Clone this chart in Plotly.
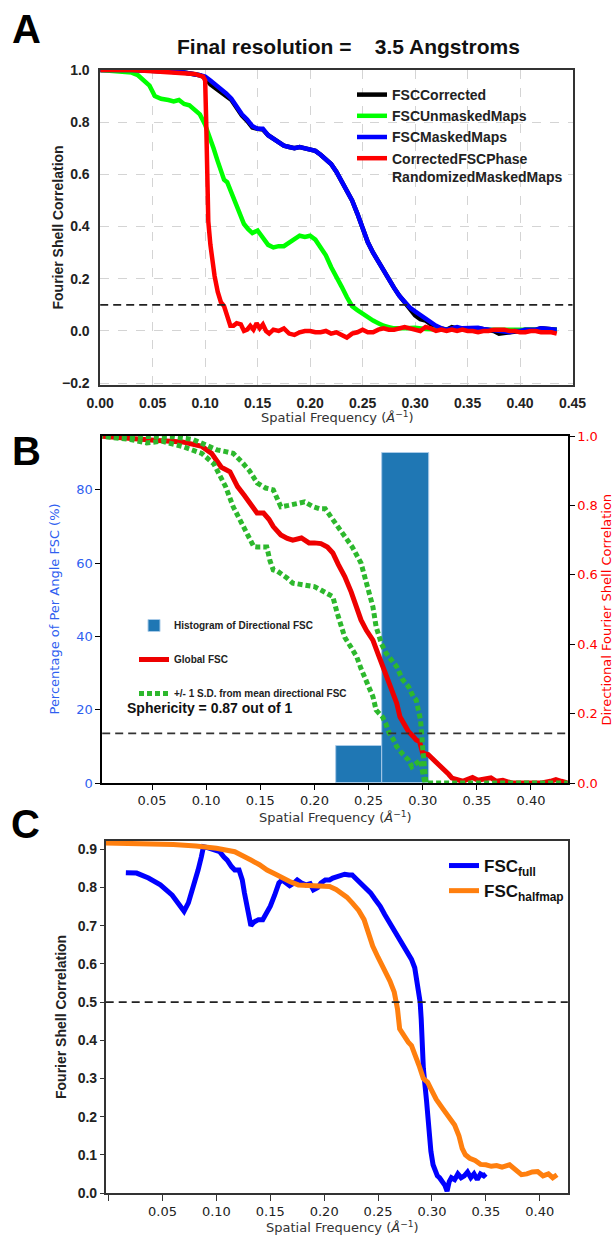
import plotly.graph_objects as go

# ---------------- Panel A data ----------------
a_corr_x = [0, 0.03, 0.06, 0.08, 0.095, 0.10, 0.105, 0.11, 0.115, 0.12, 0.125, 0.13, 0.135, 0.14, 0.145, 0.15,
            0.155, 0.16, 0.165, 0.17, 0.175, 0.18, 0.185, 0.19, 0.195, 0.20, 0.205, 0.21, 0.215, 0.22, 0.225,
            0.23, 0.235, 0.24, 0.245, 0.25, 0.255, 0.26, 0.265, 0.27, 0.275, 0.28, 0.285, 0.29, 0.295, 0.30,
            0.305, 0.31, 0.315, 0.32, 0.325, 0.33, 0.335, 0.34, 0.345, 0.35, 0.355, 0.36, 0.365, 0.37, 0.375,
            0.38, 0.385, 0.39, 0.395, 0.40, 0.405, 0.41, 0.415, 0.42, 0.425, 0.43, 0.435]
a_corr_y = [1.0, 1.0, 0.995, 0.99, 0.98, 0.97, 0.945, 0.93, 0.92, 0.905, 0.885, 0.855, 0.825, 0.805, 0.78, 0.775,
            0.772, 0.75, 0.735, 0.72, 0.71, 0.705, 0.70, 0.705, 0.70, 0.695, 0.69, 0.675, 0.66, 0.64, 0.61,
            0.575, 0.54, 0.50, 0.45, 0.39, 0.34, 0.30, 0.265, 0.235, 0.20, 0.165, 0.135, 0.11, 0.085, 0.06,
            0.045, 0.04, 0.025, 0.015, 0.01, 0.005, 0.015, 0.01, 0.01, 0.012, 0.01, 0.01, 0.008, 0.005, 0.0,
            -0.01, -0.008, -0.005, 0.0, 0.0, 0.005, 0.005, 0.005, 0.01, 0.008, 0.01, 0.005]

a_mask_x = a_corr_x
a_mask_y = [1.0, 1.0, 0.995, 0.99, 0.98, 0.975, 0.96, 0.945, 0.93, 0.91, 0.89, 0.86, 0.83, 0.81, 0.785, 0.775,
            0.775, 0.75, 0.735, 0.72, 0.71, 0.705, 0.70, 0.705, 0.70, 0.695, 0.69, 0.675, 0.66, 0.64, 0.61,
            0.575, 0.54, 0.50, 0.45, 0.39, 0.34, 0.30, 0.265, 0.235, 0.20, 0.165, 0.135, 0.11, 0.09, 0.075,
            0.06, 0.045, 0.03, 0.02, 0.01, 0.005, 0.01, 0.015, 0.01, 0.012, 0.01, 0.012, 0.008, 0.005, 0.005,
            0.0, -0.005, -0.005, 0.0, 0.0, 0.005, 0.005, 0.005, 0.01, 0.008, 0.01, 0.005]

a_unmask_x = [0, 0.02, 0.03, 0.036, 0.042, 0.047, 0.052, 0.058, 0.065, 0.07, 0.075, 0.08, 0.085, 0.09, 0.095,
              0.10, 0.104, 0.108, 0.112, 0.115, 0.118, 0.121, 0.124, 0.127, 0.13, 0.133, 0.137, 0.141, 0.145,
              0.15, 0.155, 0.16, 0.165, 0.17, 0.175, 0.18, 0.185, 0.19, 0.195, 0.20, 0.205, 0.21, 0.215, 0.22,
              0.225, 0.23, 0.235, 0.24, 0.245, 0.25, 0.255, 0.26, 0.265, 0.27, 0.275, 0.28, 0.29, 0.30, 0.31,
              0.32, 0.33, 0.34, 0.35, 0.36, 0.37, 0.38, 0.39, 0.40, 0.41, 0.42, 0.43, 0.435]
a_unmask_y = [1.0, 0.995, 0.99, 0.98, 0.96, 0.94, 0.90, 0.89, 0.885, 0.88, 0.885, 0.87, 0.865, 0.85, 0.83,
              0.79, 0.75, 0.70, 0.65, 0.61, 0.58, 0.57, 0.54, 0.51, 0.47, 0.44, 0.41, 0.39, 0.375,
              0.385, 0.36, 0.33, 0.32, 0.325, 0.325, 0.34, 0.355, 0.365, 0.36, 0.365, 0.35, 0.32, 0.29, 0.245,
              0.21, 0.17, 0.13, 0.095, 0.08, 0.065, 0.05, 0.04, 0.03, 0.02, 0.015, 0.01, 0.01, 0.012, 0.008,
              0.005, 0.005, 0.005, 0.005, 0.003, 0.005, 0.005, 0.003, 0.003, 0.005, 0.005, 0.005, 0.005]

a_phase_x = [0, 0.03, 0.05, 0.07, 0.09, 0.098, 0.100, 0.101, 0.102, 0.103, 0.105, 0.107, 0.109, 0.112, 0.115,
             0.118, 0.121, 0.124, 0.127, 0.13, 0.134, 0.137, 0.14, 0.143, 0.146, 0.149, 0.152, 0.155, 0.158,
             0.161, 0.165, 0.17, 0.175, 0.18, 0.185, 0.19, 0.195, 0.2, 0.205, 0.21, 0.215, 0.22, 0.225, 0.23,
             0.235, 0.24, 0.245, 0.25, 0.255, 0.26, 0.265, 0.27, 0.275, 0.28, 0.285, 0.29, 0.295, 0.30, 0.305,
             0.31, 0.315, 0.32, 0.325, 0.33, 0.335, 0.34, 0.345, 0.35, 0.355, 0.36, 0.365, 0.37, 0.375, 0.38,
             0.385, 0.39, 0.395, 0.40, 0.405, 0.41, 0.415, 0.42, 0.425, 0.43, 0.435]
a_phase_y = [1.0, 1.0, 0.995, 0.99, 0.985, 0.975, 0.96, 0.8, 0.6, 0.42, 0.33, 0.26, 0.21, 0.15, 0.11,
             0.095, 0.06, 0.02, 0.02, 0.03, 0.025, 0.0, 0.005, 0.02, 0.005, 0.03, 0.01, 0.025, 0.0,
             -0.01, 0.005, 0.0, 0.01, -0.01, -0.015, -0.005, 0.0, 0.0, -0.005, -0.005, 0.0, -0.01, -0.005, -0.015,
             -0.025, -0.01, -0.005, 0.005, -0.005, -0.005, 0.005, 0.01, 0.005, 0.005, 0.01, 0.015, 0.01, 0.005, 0.0,
             0.015, 0.01, 0.0, 0.005, 0.0, 0.005, 0.0, 0.005, 0.0, 0.0, -0.005, 0.0, 0.0, 0.005, 0.005,
             0.005, 0.0, 0.0, -0.005, -0.005, 0.0, 0.0, -0.005, -0.005, -0.005, -0.01]
a_threshold = 0.1

# ---------------- Panel B data ----------------
b_hist_centers = [0.2415, 0.2845]
b_hist_width = 0.043
b_hist_pct = [10, 90]

b_global_x = [0.0, 0.03, 0.052, 0.078, 0.096, 0.105, 0.114, 0.122, 0.129, 0.135, 0.140, 0.147, 0.153, 0.158,
              0.162, 0.169, 0.175, 0.180, 0.188, 0.195, 0.200, 0.206, 0.212, 0.217, 0.222, 0.228, 0.234, 0.239,
              0.243, 0.248, 0.254, 0.259, 0.263, 0.268, 0.272, 0.276, 0.279, 0.283, 0.287, 0.291, 0.294, 0.297,
              0.30, 0.305, 0.309, 0.313, 0.317, 0.320, 0.324, 0.327, 0.332, 0.337, 0.341, 0.346, 0.351, 0.357,
              0.363, 0.368, 0.374, 0.382, 0.39, 0.40, 0.41, 0.418, 0.423, 0.428, 0.434]
b_global_y = [1.0, 0.995, 0.988, 0.983, 0.97, 0.95, 0.91, 0.897, 0.854, 0.83, 0.807, 0.778, 0.778, 0.76,
              0.739, 0.715, 0.705, 0.70, 0.706, 0.692, 0.692, 0.69, 0.68, 0.663, 0.63, 0.595, 0.55, 0.508,
              0.47, 0.44, 0.412, 0.37, 0.335, 0.30, 0.259, 0.23, 0.191, 0.17, 0.148, 0.135, 0.124, 0.12,
              0.086, 0.082, 0.07, 0.058, 0.05, 0.038, 0.025, 0.014, 0.01, 0.005, 0.01, 0.016, 0.008, 0.01,
              0.015, 0.005, 0.008, 0.0, 0.0, 0.0, 0.0, 0.005, 0.01, 0.005, 0.0]

b_upper_x = [0.0, 0.04, 0.07, 0.088, 0.10, 0.11, 0.118, 0.125, 0.133, 0.14, 0.147, 0.155, 0.162, 0.169, 0.176,
             0.184, 0.191, 0.199, 0.205, 0.210, 0.217, 0.222, 0.228, 0.235, 0.243, 0.248, 0.254, 0.257, 0.262,
             0.266, 0.271, 0.276, 0.281, 0.287, 0.291, 0.294, 0.296, 0.298, 0.30, 0.302, 0.303, 0.31, 0.35,
             0.40, 0.434]
b_upper_y = [1.0, 1.0, 0.998, 0.99, 0.975, 0.96, 0.955, 0.95, 0.925, 0.90, 0.865, 0.85, 0.845, 0.796, 0.80,
             0.806, 0.81, 0.796, 0.79, 0.79, 0.758, 0.74, 0.71, 0.68, 0.634, 0.58, 0.508, 0.45, 0.40,
             0.375, 0.355, 0.335, 0.30, 0.277, 0.25, 0.239, 0.21, 0.182, 0.10, 0.03, 0.0, 0.0, 0.0,
             0.0, 0.0]

b_lower_x = [0.0, 0.03, 0.045, 0.059, 0.078, 0.096, 0.107, 0.118, 0.125, 0.131, 0.136, 0.141, 0.144, 0.147,
             0.152, 0.156, 0.159, 0.162, 0.166, 0.169, 0.175, 0.180, 0.188, 0.195, 0.200, 0.206, 0.212, 0.217,
             0.221, 0.224, 0.228, 0.234, 0.239, 0.243, 0.246, 0.250, 0.254, 0.257, 0.260, 0.263, 0.266, 0.269,
             0.273, 0.276, 0.281, 0.287, 0.290, 0.294, 0.298, 0.300, 0.302]
b_lower_y = [1.0, 0.99, 0.98, 0.985, 0.97, 0.95, 0.92, 0.854, 0.796, 0.76, 0.729, 0.70, 0.681, 0.68,
             0.68, 0.68, 0.64, 0.614, 0.61, 0.604, 0.59, 0.576, 0.572, 0.57, 0.566, 0.556, 0.546, 0.537,
             0.49, 0.46, 0.42, 0.39, 0.364, 0.33, 0.306, 0.28, 0.249, 0.21, 0.20, 0.19, 0.17, 0.144,
             0.125, 0.105, 0.085, 0.066, 0.047, 0.055, 0.066, 0.03, 0.0]
b_threshold = 0.143

# ---------------- Panel C data ----------------
c_full_x = [0.016, 0.026, 0.037, 0.048, 0.059, 0.065, 0.070, 0.074, 0.077, 0.080, 0.083, 0.086, 0.088, 0.091,
            0.094, 0.098, 0.103, 0.107, 0.110, 0.114, 0.117, 0.121, 0.124, 0.126, 0.129, 0.132, 0.135, 0.139,
            0.143, 0.147, 0.150, 0.154, 0.158, 0.161, 0.164, 0.168, 0.172, 0.175, 0.179, 0.183, 0.187, 0.190,
            0.194, 0.197, 0.201, 0.205, 0.208, 0.212, 0.215, 0.219, 0.223, 0.226, 0.230, 0.234, 0.238, 0.243,
            0.247, 0.252, 0.256, 0.259, 0.263, 0.266, 0.270, 0.274, 0.277, 0.281, 0.284, 0.286, 0.288, 0.289,
            0.290, 0.292, 0.295, 0.297, 0.299, 0.301, 0.303, 0.305, 0.307, 0.310, 0.312, 0.314, 0.316, 0.318,
            0.321, 0.324, 0.327, 0.330, 0.333, 0.336, 0.339, 0.342, 0.345, 0.348, 0.350]
c_full_y = [0.839, 0.838, 0.825, 0.807, 0.78, 0.755, 0.738, 0.76, 0.786, 0.82, 0.846, 0.88, 0.907, 0.905,
            0.903, 0.898, 0.894, 0.88, 0.872, 0.855, 0.846, 0.846, 0.82, 0.786, 0.74, 0.70, 0.71, 0.716,
            0.716, 0.735, 0.751, 0.78, 0.812, 0.82, 0.812, 0.805, 0.812, 0.82, 0.812, 0.807, 0.81, 0.794,
            0.80, 0.812, 0.82, 0.82, 0.825, 0.829, 0.833, 0.835, 0.833, 0.833, 0.822, 0.812, 0.80, 0.786,
            0.77, 0.751, 0.73, 0.716, 0.70, 0.682, 0.665, 0.647, 0.63, 0.612, 0.59, 0.56, 0.52, 0.50,
            0.456, 0.326, 0.24, 0.17, 0.109, 0.074, 0.056, 0.045, 0.04, 0.03, 0.02, 0.005, 0.03, 0.04,
            0.035, 0.05, 0.04, 0.045, 0.055, 0.04, 0.05, 0.035, 0.05, 0.045, 0.05]

c_half_x = [-0.003, 0.02, 0.04, 0.06, 0.081, 0.10, 0.117, 0.125, 0.132, 0.140, 0.147, 0.154, 0.161, 0.168,
            0.176, 0.183, 0.19, 0.198, 0.205, 0.211, 0.216, 0.221, 0.226, 0.232, 0.237, 0.241, 0.245, 0.250,
            0.256, 0.261, 0.265, 0.268, 0.270, 0.274, 0.278, 0.281, 0.285, 0.288, 0.292, 0.296, 0.299, 0.304,
            0.310, 0.315, 0.321, 0.325, 0.328, 0.331, 0.335, 0.340, 0.345, 0.350, 0.355, 0.360, 0.365, 0.372,
            0.378, 0.383, 0.388, 0.393, 0.398, 0.403, 0.408, 0.412, 0.416]
c_half_y = [0.917, 0.916, 0.915, 0.913, 0.909, 0.903, 0.894, 0.884, 0.872, 0.86, 0.846, 0.836, 0.825, 0.816,
            0.807, 0.806, 0.807, 0.805, 0.803, 0.795, 0.786, 0.775, 0.76, 0.74, 0.716, 0.68, 0.647, 0.617,
            0.586, 0.555, 0.526, 0.482, 0.43, 0.41, 0.395, 0.386, 0.36, 0.334, 0.30, 0.29, 0.273, 0.245,
            0.221, 0.20, 0.178, 0.15, 0.117, 0.10, 0.091, 0.085, 0.075, 0.074, 0.07, 0.072, 0.068, 0.074,
            0.06, 0.048, 0.05, 0.055, 0.056, 0.045, 0.05, 0.04, 0.048]
c_threshold = 0.5

# ---------------- Text ----------------
title_a = "Final resolution =\u00a0\u00a0\u00a0\u00a03.5 Angstroms"
xlabel = "Spatial Frequency (<i>Å</i><sup>−1</sup>)"
names_a = ["FSCCorrected", "FSCUnmaskedMaps", "FSCMaskedMaps", "CorrectedFSCPhase<br>RandomizedMaskedMaps"]
names_b = ["Histogram of Directional FSC", "Global FSC", "+/- 1 S.D. from mean directional FSC"]
names_c = ["FSC<sub>full</sub>", "FSC<sub>halfmap</sub>"]

W, H = 614, 1237
ARIAL = "Liberation Sans, Arial, sans-serif"
DEJAVU = "DejaVu Sans, sans-serif"
BLUE_T = "#2f5ff0"


def px(x):
    return x / W


def py(y):
    return 1 - y / H


fig = go.Figure()

lw_a = 4.5
fig.add_trace(go.Scatter(x=a_corr_x, y=a_corr_y, mode="lines", name=names_a[0],
                         line=dict(color="#000000", width=lw_a), xaxis="x", yaxis="y", legend="legend"))
fig.add_trace(go.Scatter(x=a_unmask_x, y=a_unmask_y, mode="lines", name=names_a[1],
                         line=dict(color="#00ff00", width=lw_a), xaxis="x", yaxis="y", legend="legend"))
fig.add_trace(go.Scatter(x=a_mask_x, y=a_mask_y, mode="lines", name=names_a[2],
                         line=dict(color="#0000ff", width=lw_a), xaxis="x", yaxis="y", legend="legend"))
fig.add_trace(go.Scatter(x=a_phase_x, y=a_phase_y, mode="lines", name=names_a[3],
                         line=dict(color="#ff0000", width=lw_a), xaxis="x", yaxis="y", legend="legend"))

fig.add_trace(go.Bar(x=b_hist_centers, y=b_hist_pct, width=b_hist_width, name=names_b[0],
                     marker=dict(color="#1f77b4", line=dict(color="#a9cbe8", width=1)),
                     xaxis="x2", yaxis="y2", legend="legend2", legendgroup="g1"))
fig.add_trace(go.Scatter(x=b_global_x, y=b_global_y, mode="lines", name=names_b[1],
                         line=dict(color="#ee0000", width=5), xaxis="x2", yaxis="y3",
                         legend="legend2", legendgroup="g2"))
fig.add_trace(go.Scatter(x=b_upper_x, y=b_upper_y, mode="lines", name=names_b[2],
                         line=dict(color="#2db82d", width=5, dash="5px,3px"), xaxis="x2", yaxis="y3",
                         legend="legend2", legendgroup="g3"))
fig.add_trace(go.Scatter(x=b_lower_x, y=b_lower_y, mode="lines", name=names_b[2], showlegend=False,
                         line=dict(color="#2db82d", width=5, dash="5px,3px"), xaxis="x2", yaxis="y3",
                         legend="legend2", legendgroup="g3"))

fig.add_trace(go.Scatter(x=c_full_x, y=c_full_y, mode="lines", name=names_c[0],
                         line=dict(color="#0000ff", width=5), xaxis="x3", yaxis="y4", legend="legend3"))
fig.add_trace(go.Scatter(x=c_half_x, y=c_half_y, mode="lines", name=names_c[1],
                         line=dict(color="#ff7f0e", width=5), xaxis="x3", yaxis="y4", legend="legend3"))

frame = "#333333"
axis_a_common = dict(showline=True, mirror=True, linecolor=frame, linewidth=1.5, zeroline=False,
                     showgrid=True, gridcolor="#d4d4d4", griddash="dash", gridwidth=1, ticks="",
                     automargin=False,
                     tickfont=dict(family=ARIAL, size=14, color="#222", weight="bold"))

fig.update_layout(
    width=W, height=H, margin=dict(l=0, r=0, t=0, b=0, autoexpand=False),
    paper_bgcolor="white", plot_bgcolor="white", showlegend=True, bargap=0,
    xaxis=dict(domain=[px(100.2), px(572.5)], anchor="y", range=[0, 0.45], dtick=0.05, tick0=0,
               tickformat=".2f", ticklabelstandoff=4, **axis_a_common),
    yaxis=dict(domain=[py(385), py(70)], anchor="x", range=[-0.207, 1.0], dtick=0.2, tick0=0,
               tickformat=".1f", ticklabelstandoff=6, **axis_a_common),
    xaxis2=dict(domain=[px(102.2), px(567.8)], anchor="y2", range=[0.004, 0.434],
                tickvals=[0.05, 0.10, 0.15, 0.20, 0.25, 0.30, 0.35, 0.40], tickformat=".2f",
                showline=True, mirror=True, linecolor="black", linewidth=1.5, zeroline=False, showgrid=False,
                ticks="outside", ticklen=5, tickcolor="black", automargin=False,
                tickfont=dict(family=DEJAVU, size=13, color="#222")),
    yaxis2=dict(domain=[py(783), py(436)], anchor="x2", range=[0, 94.65], tickvals=[0, 20, 40, 60, 80],
                showline=True, linecolor="black", linewidth=1.5, zeroline=False, showgrid=False,
                ticks="outside", ticklen=5, tickcolor="black", automargin=False,
                tickfont=dict(family=DEJAVU, size=13, color=BLUE_T)),
    yaxis3=dict(overlaying="y2", side="right", anchor="x2", range=[0, 1.0], dtick=0.2, tick0=0,
                tickformat=".1f", showline=True, linecolor="black", linewidth=1.5, zeroline=False,
                showgrid=False, ticks="outside", ticklen=5, tickcolor="black", automargin=False,
                tickfont=dict(family=DEJAVU, size=13, color="red")),
    xaxis3=dict(domain=[px(105.7), px(567.8)], anchor="y4", range=[-0.0027, 0.426],
                tickvals=[0, 0.05, 0.10, 0.15, 0.20, 0.25, 0.30, 0.35, 0.40],
                ticktext=["", "0.05", "0.10", "0.15", "0.20", "0.25", "0.30", "0.35", "0.40"],
                showline=True, mirror=True, linecolor=frame, linewidth=1.5, zeroline=False, showgrid=False,
                ticks="outside", ticklen=6, tickcolor=frame, automargin=False,
                tickfont=dict(family=DEJAVU, size=13, color="#222")),
    yaxis4=dict(domain=[py(1193), py(841)], anchor="x3", range=[0.0, 0.922], dtick=0.1, tick0=0,
                tickformat=".1f", showline=True, mirror=True, linecolor=frame, linewidth=1.5, zeroline=False,
                showgrid=False, ticks="outside", ticklen=4, tickcolor=frame, automargin=False,
                tickfont=dict(family=ARIAL, size=14, color="#222", weight="bold")),
    legend=dict(x=px(352), y=py(79), xanchor="left", yanchor="top", bgcolor="rgba(0,0,0,0)",
                font=dict(family=ARIAL, size=14, color="#222", weight="bold"), valign="top",
                tracegroupgap=0),
    legend2=dict(x=px(134), y=py(611), xanchor="left", yanchor="top", bgcolor="rgba(0,0,0,0)",
                 font=dict(family=ARIAL, size=10, color="#222", weight="bold"), tracegroupgap=15),
    legend3=dict(x=px(444), y=py(848), xanchor="left", yanchor="top", bgcolor="rgba(0,0,0,0)",
                 font=dict(family=ARIAL, size=17, color="#111", weight="bold"), tracegroupgap=0),
)

fig.add_shape(type="line", xref="x domain", yref="y", x0=0, x1=1, y0=a_threshold, y1=a_threshold,
              line=dict(color="#222", width=1.6, dash="8px,5px"))
fig.add_shape(type="line", xref="x2 domain", yref="y3", x0=0, x1=1, y0=b_threshold, y1=b_threshold,
              line=dict(color="#333", width=1.6, dash="8px,5px"))
fig.add_shape(type="line", xref="x3 domain", yref="y4", x0=0, x1=1, y0=c_threshold, y1=c_threshold,
              line=dict(color="#222", width=1.6, dash="8px,5px"))

ann = []
for letter, (lx, ly) in zip(["A", "B", "C"], [(26.5, 29), (26.5, 451), (25, 824)]):
    ann.append(dict(text=letter, x=px(lx), y=py(ly), xref="paper", yref="paper", showarrow=False,
                    xanchor="center", yanchor="middle",
                    font=dict(family=ARIAL, size=40, color="black", weight="bold")))
ann.append(dict(text=title_a, x=px(348.6), y=py(46), xref="paper", yref="paper", showarrow=False,
                xanchor="center", yanchor="middle",
                font=dict(family=ARIAL, size=21, color="#111", weight="bold")))
ann.append(dict(text="Fourier Shell Correlation", x=px(57), y=py(227.5), xref="paper", yref="paper",
                showarrow=False, textangle=-90, xanchor="center", yanchor="middle",
                font=dict(family=ARIAL, size=14, color="#222", weight="bold")))
ann.append(dict(text=xlabel, x=px(337), y=py(417), xref="paper", yref="paper", showarrow=False,
                xanchor="center", yanchor="middle", font=dict(family=DEJAVU, size=13, color="#333")))
ann.append(dict(text="Percentage of Per Angle FSC (%)", x=px(54), y=py(609.5), xref="paper", yref="paper",
                showarrow=False, textangle=-90, xanchor="center", yanchor="middle",
                font=dict(family=DEJAVU, size=13, color=BLUE_T)))
ann.append(dict(text="Directional Fourier Shell Correlation", x=px(606), y=py(609.5), xref="paper",
                yref="paper", showarrow=False, textangle=-90, xanchor="center", yanchor="middle",
                font=dict(family=DEJAVU, size=13, color="red")))
ann.append(dict(text=xlabel, x=px(335), y=py(817), xref="paper", yref="paper", showarrow=False,
                xanchor="center", yanchor="middle", font=dict(family=DEJAVU, size=13, color="#333")))
ann.append(dict(text="Sphericity = 0.87 out of 1", x=px(125), y=py(707.7), xref="paper", yref="paper",
                showarrow=False, xanchor="left", yanchor="middle",
                font=dict(family=ARIAL, size=14, color="#111", weight="bold")))
ann.append(dict(text="Fourier Shell Correlation", x=px(61), y=py(1017), xref="paper", yref="paper",
                showarrow=False, textangle=-90, xanchor="center", yanchor="middle",
                font=dict(family=ARIAL, size=14, color="#222", weight="bold")))
ann.append(dict(text=xlabel, x=px(342), y=py(1227), xref="paper", yref="paper", showarrow=False,
                xanchor="center", yanchor="middle", font=dict(family=DEJAVU, size=13, color="#333")))
fig.update_layout(annotations=ann)

# The page's default body margin would shift the figure; remove it once the plot is drawn.
fig.write_html("out.html", config={"displayModeBar": False},
               post_script="document.body.style.margin='0';document.body.style.overflow='hidden';")
